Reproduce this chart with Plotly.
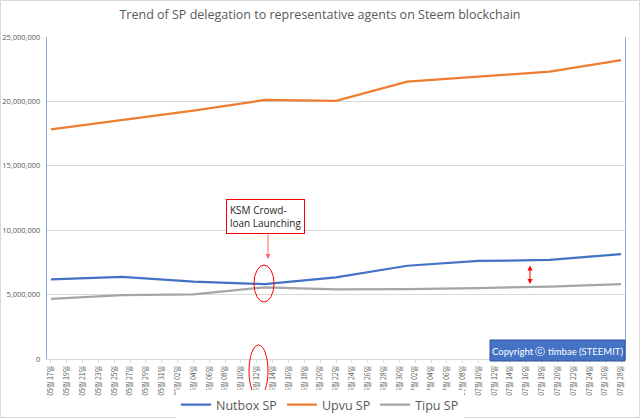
import plotly.graph_objects as go

dates = ["2021-05-17", "2021-05-26", "2021-06-04", "2021-06-13", "2021-06-22",
         "2021-07-01", "2021-07-10", "2021-07-19", "2021-07-28"]
nutbox_sp = [6190000, 6370000, 6000000, 5820000, 6340000, 7240000, 7610000, 7690000, 8150000]
upvu_sp = [17830000, 18560000, 19280000, 20110000, 20050000, 21530000, 21920000, 22310000, 23210000]
tipu_sp = [4660000, 4950000, 5020000, 5570000, 5410000, 5430000, 5510000, 5610000, 5820000]

title_text = "Trend of SP delegation to representative agents on Steem blockchain"
note_text = "KSM Crowd-<br>loan Launching"
copyright_text = "Copyright ⓒ timbae (STEEMIT)"

FONT = "Open Sans"
GREY = "#595959"

fig = go.Figure()
for name, vals, col in [("Nutbox SP", nutbox_sp, "#4472C4"),
                        ("Upvu SP", upvu_sp, "#ED7D31"),
                        ("Tipu SP", tipu_sp, "#A5A5A5")]:
    fig.add_trace(go.Scatter(x=dates, y=vals, name=name, mode="lines",
                             line=dict(color=col, width=2.25)))

fig.update_layout(
    width=640, height=418,
    margin=dict(l=47, r=15, t=37, b=59, autoexpand=False),
    paper_bgcolor="white", plot_bgcolor="white",
    font=dict(family=FONT, color=GREY),
    title=dict(text=title_text, x=0.5, xref="container", xanchor="center",
               y=(418 - 15) / 418, yref="container", yanchor="middle",
               font=dict(size=12.5, color=GREY, family=FONT)),
    legend=dict(orientation="h", x=0.5, xref="container", xanchor="center",
                y=13 / 418, yref="container", yanchor="middle",
                font=dict(size=12.5, color=GREY), itemwidth=30),
    showlegend=True,
)

fig.update_xaxes(
    type="date", automargin=False,
    range=["2021-05-16 12:00", "2021-07-28 12:00"],
    tick0="2021-05-17", dtick=2 * 86400000,
    tickformat="%m월 %d일", tickangle=-90,
    tickfont=dict(size=7, color=GREY, family="Noto Sans CJK KR"),
    showgrid=False, showline=True, linecolor="#D9D9D9", linewidth=1,
    ticks="outside", ticklen=3, tickcolor="#D9D9D9",
)
fig.update_yaxes(
    automargin=False,
    range=[0, 25000000], dtick=5000000, tickformat=",",
    tickfont=dict(size=7.5, color=GREY, family=FONT), ticklabelstandoff=4,
    gridcolor="#D9D9D9", gridwidth=1, zeroline=False,
    showline=True, linecolor="#8FAADC", linewidth=1.2, mirror=True,
)

def px(xp):
    return (xp - 47) / 578

def py(yp):
    return (359 - yp) / 322

shapes = [
    # outer light border
    dict(type="rect", xref="paper", yref="paper", x0=px(0.5), x1=px(639.5),
         y0=py(417.5), y1=py(0.5), line=dict(color="#D9D9D9", width=1), layer="below"),
    # ellipse around data
    dict(type="circle", xref="paper", yref="paper", x0=px(254), x1=px(274),
         y0=py(302), y1=py(265), line=dict(color="#FF0000", width=1)),
    # ellipse around date label
    dict(type="circle", xref="paper", yref="paper", x0=px(249), x1=px(268),
         y0=py(397), y1=py(345), line=dict(color="#FF0000", width=1)),
    # copyright box
    dict(type="rect", xref="paper", yref="paper", x0=px(490), x1=px(625),
         y0=py(361), y1=py(340), fillcolor="#4472C4",
         line=dict(color="#2F5597", width=1)),
]
fig.update_layout(shapes=shapes)

annotations = [
    dict(xref="paper", yref="paper", x=px(265), y=py(216), text=note_text,
         xanchor="center", yanchor="middle",
         showarrow=False, font=dict(size=10, color="#262626", family=FONT),
         bordercolor="#FF0000", borderwidth=1, borderpad=3, bgcolor="white",
         align="left"),
    dict(xref="paper", yref="paper", x=px(268), y=py(259), ax=0, ay=-26,
         text="", showarrow=True, arrowhead=2, arrowsize=1, arrowwidth=1,
         arrowcolor="#FF6666"),
    dict(xref="paper", yref="paper", x=px(530), y=py(284), ax=0, ay=-20,
         text="", showarrow=True, arrowhead=2, arrowsize=1, arrowwidth=1,
         arrowside="end+start", arrowcolor="#FF0000"),
    dict(xref="paper", yref="paper", x=px(557), y=py(351), text=copyright_text,
         xanchor="center", yanchor="middle",
         showarrow=False, font=dict(size=9.5, color="white", family="Lato")),
]
fig.update_layout(annotations=annotations)

fig.write_html("out.html", config={"displayModeBar": False},
               post_script="document.body.style.margin='0';document.body.style.overflow='hidden';")
